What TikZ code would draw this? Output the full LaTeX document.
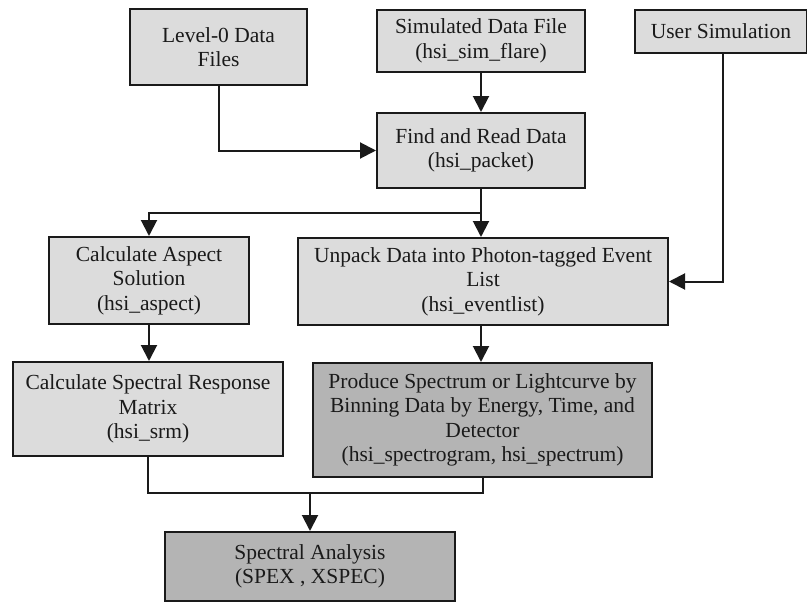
\documentclass[tikz,border=0pt]{standalone}
\usepackage{fontspec}
\setmainfont{Liberation Serif}
\usetikzlibrary{arrows.meta}
\definecolor{lightbox}{HTML}{DCDCDC}
\definecolor{darkbox}{HTML}{B4B4B4}
\definecolor{ink}{HTML}{1A1A1A}
\tikzset{
  box/.style={draw=ink, line width=2pt, fill=lightbox, rectangle, align=center,
    inner sep=0pt, text=ink, font=\fontsize{21.5}{24.5}\selectfont},
  darkbx/.style={box, fill=darkbox},
  conn/.style={draw=ink, line width=2pt},
  arr/.style={conn, -{Triangle[length=16pt,width=16pt]}}
}
\begin{document}
\begin{tikzpicture}[x=1pt,y=-1pt]
\useasboundingbox (0,0) rectangle (807,605);
\node[box, minimum width=177pt, minimum height=76pt] (lvl) at (218.5,47) {Level-0 Data\\Files};
\node[box, minimum width=208pt, minimum height=62pt] (sim) at (481,41) {Simulated Data File\\(hsi\_sim\_flare)};
\node[box, minimum width=172pt, minimum height=43pt] (user) at (721,31.5) {User Simulation};
\node[box, minimum width=208pt, minimum height=75pt] (find) at (481,150.5) {Find and Read Data\\(hsi\_packet)};
\node[box, minimum width=200pt, minimum height=87pt] (aspect) at (149,280.5) {Calculate Aspect\\Solution\\(hsi\_aspect)};
\node[box, minimum width=370pt, minimum height=87pt] (unpack) at (483,281.5) {Unpack Data into Photon-tagged Event\\List\\(hsi\_eventlist)};
\node[box, minimum width=270pt, minimum height=94pt] (srm) at (148,409) {Calculate Spectral Response\\Matrix\\(hsi\_srm)};
\node[darkbx, minimum width=339pt, minimum height=114pt] (prod) at (482.5,420) {Produce Spectrum or Lightcurve by\\Binning Data by Energy, Time, and\\Detector\\(hsi\_spectrogram, hsi\_spectrum)};
\node[darkbx, minimum width=290pt, minimum height=69pt] (spec) at (310,566.5) {Spectral Analysis\\(SPEX , XSPEC)};
\coordinate (bus1) at (0,212.5);
\coordinate (bus2) at (0,493);
% connectors
\draw[arr] (lvl.south) |- (find.west);
\draw[arr] (sim.south) -- (find.north);
\draw[arr] ([xshift=2pt]user.south) |- (unpack.east);
\draw[arr] (find.south) -- (find.south |- unpack.north);
\draw[arr] (find.south |- bus1) -- (aspect.north |- bus1) -- (aspect.north);
\draw[arr] (aspect.south) -- (aspect.south |- srm.north);
\draw[arr] (find.south |- unpack.south) -- (find.south |- prod.north);
\draw[conn] (srm.south) -- (srm.south |- bus2) -- (prod.south |- bus2) -- (prod.south);
\draw[arr] (spec.north |- bus2) -- (spec.north);
\end{tikzpicture}
\end{document}
